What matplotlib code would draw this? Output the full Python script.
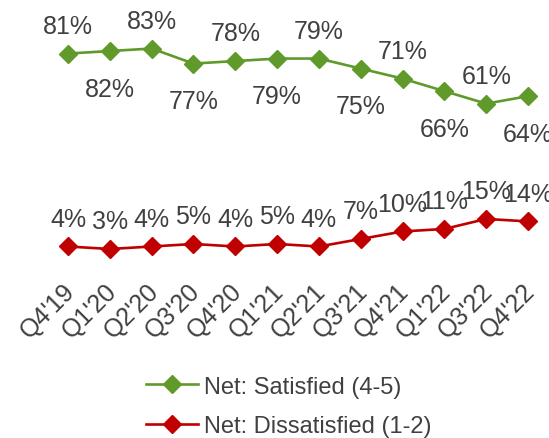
import matplotlib.pyplot as plt
import matplotlib.transforms as mtransforms
from matplotlib.lines import Line2D

quarters = ["Q4'19", "Q1'20", "Q2'20", "Q3'20", "Q4'20", "Q1'21",
            "Q2'21", "Q3'21", "Q4'21", "Q1'22", "Q3'22", "Q4'22"]
satisfied = [81, 82, 83, 77, 78, 79, 79, 75, 71, 66, 61, 64]
dissatisfied = [4, 3, 4, 5, 4, 5, 4, 7, 10, 11, 15, 14]

green = "#5f9a2a"
red = "#c00000"
text_col = "#404040"
plt.rcParams["font.family"] = ["Liberation Sans", "DejaVu Sans"]

fig = plt.figure(figsize=(5.49, 4.39), dpi=100)
ax = fig.add_axes([0.1239, 0.4134, 0.8379, 0.5708])
x = list(range(len(quarters)))

ax.plot(x, satisfied, color=green, lw=1.9, marker="D", ms=9, clip_on=False)
ax.plot(x, dissatisfied, color=red, lw=1.9, marker="D", ms=9, clip_on=False)

# labels above for even points, below for odd points (green series)
for i, v in enumerate(satisfied):
    dy = 20 if i % 2 == 0 else -27
    ax.annotate(f"{v}%", (i, v), xytext=(0, dy), textcoords="offset points",
                ha="center", va="center", fontsize=18, color=text_col)
for i, v in enumerate(dissatisfied):
    ax.annotate(f"{v}%", (i, v), xytext=(0, 20), textcoords="offset points",
                ha="center", va="center", fontsize=18, color=text_col)

ax.set_xlim(0, 11)
ax.set_ylim(0, 100)
ax.set_xticks(x)
ax.set_xticklabels(quarters, rotation=45, ha="right", rotation_mode="anchor",
                   fontsize=18, color=text_col)
ax.tick_params(axis="x", length=0, pad=16)
shift = mtransforms.ScaledTranslation(-4 / 72, 0, fig.dpi_scale_trans)
for lab in ax.get_xticklabels():
    lab.set_transform(lab.get_transform() + shift)
ax.set_yticks([])
for s in ax.spines.values():
    s.set_visible(False)

handles = [Line2D([], [], color=green, lw=1.9, marker="D", ms=9),
           Line2D([], [], color=red, lw=1.9, marker="D", ms=9)]
fig.legend(handles, ["Net: Satisfied (4-5)", "Net: Dissatisfied (1-2)"],
           loc="center", bbox_to_anchor=(0.5255, 0.072), frameon=False,
           fontsize=17, labelcolor=text_col, handlelength=2.2,
           handletextpad=0.25, labelspacing=0.74)

fig.savefig("out.png", dpi=100)
